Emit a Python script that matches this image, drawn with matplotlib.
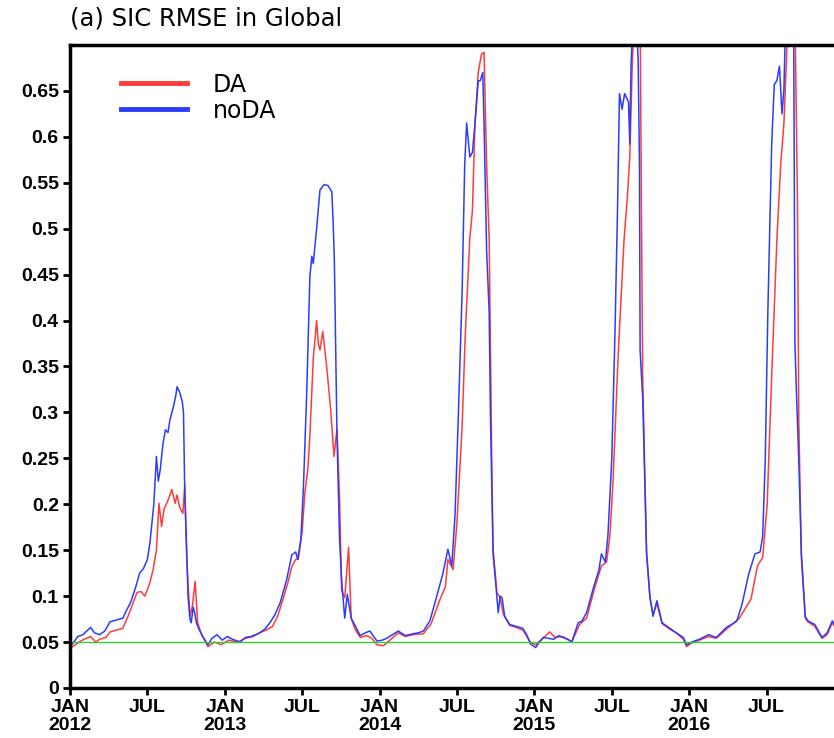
import matplotlib
matplotlib.use("Agg")
import matplotlib.pyplot as plt

# months since JAN 2012
noda_month = [0.0, 0.3, 0.6, 1.0, 1.3, 1.6, 1.9, 2.3, 2.7, 3.1, 3.6, 4.1, 4.4, 4.7, 5.1, 5.4, 5.7, 6.0,
              6.2, 6.5, 6.7, 6.85, 7.0, 7.2, 7.4, 7.6, 7.75, 8.0, 8.2, 8.3, 8.5, 8.7, 8.8, 8.9, 9.05,
              9.15, 9.3, 9.4, 9.55, 9.7, 9.8, 10.0, 10.3, 10.7, 11.0, 11.4, 11.8, 12.2, 12.6, 13.2,
              13.6, 14.0, 14.4, 14.7, 15.1, 15.5, 15.9, 16.3, 16.8, 17.2, 17.5, 17.65, 17.9, 18.1,
              18.35, 18.6, 18.75, 18.86, 19.12, 19.38, 19.7, 20.0, 20.3, 20.4, 20.5, 20.7, 20.9,
              21.06, 21.3, 21.5, 21.8, 22.1, 22.5, 22.9, 23.25, 23.6, 23.8, 24.2, 24.55, 25.0, 25.45,
              26.0, 26.6, 27.0, 27.4, 27.9, 28.4, 28.9, 29.3, 29.6, 29.85, 30.1, 30.4, 30.6, 30.75,
              31.0, 31.2, 31.4, 31.65, 31.8, 32.0, 32.1, 32.3, 32.5, 32.6, 32.8, 32.95, 33.2, 33.35,
              33.5, 33.7, 34.1, 34.6, 35.1, 35.4, 35.7, 36.1, 36.4, 36.7, 37.1, 37.5, 37.9, 38.2,
              38.6, 38.9, 39.4, 39.7, 40.05, 40.6, 41.0, 41.2, 41.5, 41.7, 42.0, 42.25, 42.45, 42.6,
              42.8, 43.0, 43.3, 43.4, 43.5, 43.7, 43.9, 44.05, 44.15, 44.2, 44.4, 44.7, 44.96, 45.2,
              45.5, 45.9, 46.5, 47.0, 47.55, 47.8, 48.2, 48.8, 49.5, 50.1, 50.9, 51.4, 51.7, 52.1,
              52.6, 53.1, 53.5, 53.7, 53.9, 54.1, 54.4, 54.6, 54.8, 55.0, 55.2, 55.35, 55.5, 56.1,
              56.2, 56.3, 56.5, 56.7, 57.0, 57.2, 57.75, 58.3, 58.7, 59.1, 59.4]
noda_val = [0.045, 0.050, 0.056, 0.058, 0.062, 0.066, 0.060, 0.058, 0.062, 0.072, 0.074, 0.076, 0.085,
            0.093, 0.110, 0.125, 0.130, 0.140, 0.158, 0.200, 0.252, 0.225, 0.238, 0.265, 0.281, 0.278,
            0.292, 0.305, 0.318, 0.328, 0.322, 0.312, 0.300, 0.212, 0.150, 0.100, 0.075, 0.071, 0.088,
            0.080, 0.071, 0.064, 0.056, 0.047, 0.054, 0.058, 0.052, 0.056, 0.053, 0.050, 0.055, 0.056,
            0.058, 0.060, 0.064, 0.071, 0.080, 0.093, 0.118, 0.145, 0.148, 0.140, 0.162, 0.219, 0.320,
            0.448, 0.470, 0.462, 0.500, 0.542, 0.548, 0.547, 0.540, 0.508, 0.463, 0.275, 0.162, 0.117,
            0.076, 0.102, 0.076, 0.068, 0.057, 0.060, 0.062, 0.055, 0.051, 0.052, 0.054, 0.058, 0.062,
            0.057, 0.059, 0.060, 0.062, 0.073, 0.098, 0.124, 0.151, 0.133, 0.188, 0.293, 0.431, 0.569,
            0.615, 0.578, 0.583, 0.615, 0.661, 0.661, 0.670, 0.615, 0.477, 0.408, 0.293, 0.146, 0.123,
            0.082, 0.100, 0.098, 0.078, 0.069, 0.067, 0.065, 0.058, 0.048, 0.044, 0.050, 0.055, 0.054,
            0.053, 0.057, 0.055, 0.053, 0.050, 0.071, 0.073, 0.082, 0.110, 0.128, 0.146, 0.137, 0.165,
            0.248, 0.386, 0.523, 0.647, 0.630, 0.647, 0.638, 0.592, 0.680, 0.740, 0.740, 0.680, 0.570,
            0.367, 0.316, 0.147, 0.100, 0.078, 0.095, 0.071, 0.065, 0.060, 0.055, 0.047, 0.050, 0.053,
            0.058, 0.055, 0.066, 0.070, 0.073, 0.091, 0.123, 0.146, 0.148, 0.165, 0.248, 0.408, 0.592,
            0.657, 0.661, 0.677, 0.625, 0.652, 0.740, 0.740, 0.376, 0.330, 0.248, 0.147, 0.078, 0.073,
            0.069, 0.055, 0.060, 0.073, 0.065]

da_month = [0.0, 0.3, 0.7, 1.1, 1.6, 2.0, 2.3, 2.8, 3.1, 3.6, 4.1, 4.5, 4.9, 5.2, 5.5, 5.8, 6.0, 6.2,
            6.45, 6.7, 6.9, 7.1, 7.3, 7.5, 7.7, 7.9, 8.15, 8.3, 8.5, 8.75, 8.9, 9.05, 9.3, 9.5, 9.7,
            9.9, 10.2, 10.7, 11.2, 11.7, 12.3, 13.0, 13.6, 14.2, 14.7, 15.2, 15.7, 16.1, 16.5, 16.9,
            17.2, 17.5, 17.7, 18.0, 18.2, 18.45, 18.6, 18.86, 19.12, 19.25, 19.38, 19.6, 19.9, 20.2,
            20.47, 20.7, 20.9, 21.06, 21.3, 21.6, 21.8, 22.1, 22.5, 23.0, 23.4, 23.8, 24.3, 24.8,
            25.45, 26.0, 26.6, 27.4, 28.0, 28.7, 29.1, 29.3, 29.7, 30.0, 30.4, 30.65, 31.0, 31.2,
            31.4, 31.65, 31.9, 32.1, 32.3, 32.5, 32.7, 32.8, 33.1, 33.35, 33.6, 34.1, 34.6, 35.1,
            35.7, 36.1, 36.5, 37.2, 37.6, 38.2, 38.9, 39.5, 40.05, 40.6, 41.2, 41.6, 41.85, 42.1,
            42.5, 42.75, 42.95, 43.2, 43.4, 43.6, 43.8, 44.2, 44.3, 44.4, 44.7, 44.96, 45.2, 45.5,
            45.9, 46.5, 47.0, 47.55, 47.8, 48.2, 48.8, 49.5, 50.1, 50.9, 51.9, 52.8, 53.3, 53.7,
            54.05, 54.4, 54.8, 55.1, 55.35, 55.7, 56.2, 56.4, 56.5, 56.7, 57.0, 57.2, 57.75, 58.3,
            58.7, 59.1, 59.4]
da_val = [0.043, 0.046, 0.050, 0.053, 0.056, 0.050, 0.053, 0.055, 0.061, 0.063, 0.065, 0.078, 0.093,
          0.104, 0.105, 0.100, 0.107, 0.115, 0.129, 0.150, 0.201, 0.176, 0.195, 0.201, 0.208, 0.216,
          0.201, 0.210, 0.197, 0.190, 0.221, 0.140, 0.078, 0.090, 0.116, 0.071, 0.058, 0.045, 0.050,
          0.047, 0.052, 0.050, 0.054, 0.056, 0.060, 0.063, 0.067, 0.078, 0.096, 0.115, 0.132, 0.140,
          0.140, 0.170, 0.211, 0.240, 0.275, 0.358, 0.400, 0.375, 0.368, 0.388, 0.350, 0.305, 0.252,
          0.282, 0.207, 0.106, 0.098, 0.153, 0.076, 0.064, 0.055, 0.057, 0.054, 0.047, 0.046, 0.052,
          0.060, 0.056, 0.058, 0.059, 0.070, 0.097, 0.110, 0.140, 0.129, 0.180, 0.285, 0.386, 0.490,
          0.520, 0.615, 0.670, 0.690, 0.692, 0.570, 0.487, 0.245, 0.151, 0.104, 0.098, 0.080, 0.068,
          0.066, 0.063, 0.050, 0.047, 0.052, 0.061, 0.055, 0.056, 0.050, 0.069, 0.076, 0.105, 0.133,
          0.137, 0.165, 0.225, 0.363, 0.431, 0.487, 0.532, 0.578, 0.683, 0.740, 0.740, 0.524, 0.340,
          0.147, 0.098, 0.080, 0.092, 0.070, 0.064, 0.060, 0.053, 0.045, 0.049, 0.052, 0.056, 0.054,
          0.064, 0.076, 0.097, 0.133, 0.142, 0.200, 0.340, 0.487, 0.570, 0.615, 0.740, 0.740, 0.524,
          0.293, 0.142, 0.076, 0.072, 0.067, 0.054, 0.058, 0.071, 0.064]

reference_level = 0.05

tick_months = [0, 6, 12, 18, 24, 30, 36, 42, 48, 54]
tick_labels = ["JAN\n2012", "JUL", "JAN\n2013", "JUL", "JAN\n2014", "JUL",
               "JAN\n2015", "JUL", "JAN\n2016", "JUL"]
y_ticks = [0, 0.05, 0.1, 0.15, 0.2, 0.25, 0.3, 0.35, 0.4, 0.45, 0.5, 0.55, 0.6, 0.65]
y_labels = ["0", "0.05", "0.1", "0.15", "0.2", "0.25", "0.3", "0.35", "0.4", "0.45",
            "0.5", "0.55", "0.6", "0.65"]

fig = plt.figure(figsize=(8.34, 7.38), dpi=100)
# axes runs a little past the right edge, as in the cropped original
ax = fig.add_axes([0.0839, 0.0678, 0.928, 0.8713])

ax.plot(da_month, da_val, color="#ff3b3b", lw=1.1, label="DA")
ax.plot(noda_month, noda_val, color="#2a3cff", lw=1.1, label="noDA")
ax.axhline(reference_level, color="#33cc33", lw=1.0)

ax.set_xlim(0, 60)
ax.set_ylim(0, 0.70)
ax.set_xticks(tick_months)
ax.set_xticklabels(tick_labels, fontsize=14, fontweight="bold",
                   family="Liberation Sans", linespacing=1.08)
ax.set_yticks(y_ticks)
ax.set_yticklabels(y_labels, fontsize=14, fontweight="bold", family="Liberation Sans")
ax.tick_params(direction="out", length=5, width=2, pad=3)

for side in ["left", "bottom", "top", "right"]:
    ax.spines[side].set_linewidth(2.5)

leg = ax.legend(loc="upper left", bbox_to_anchor=(0.038, 0.99), frameon=False,
                handlelength=2.8, handletextpad=1.1, labelspacing=0.08,
                prop={"family": "DejaVu Sans", "size": 17})
for line in leg.get_lines():
    line.set_linewidth(3.5)

fig.text(0.0839, 0.958, "(a) SIC RMSE in Global", fontsize=17.5, family="DejaVu Sans",
         ha="left", va="bottom")

fig.savefig("out.png", dpi=100)
